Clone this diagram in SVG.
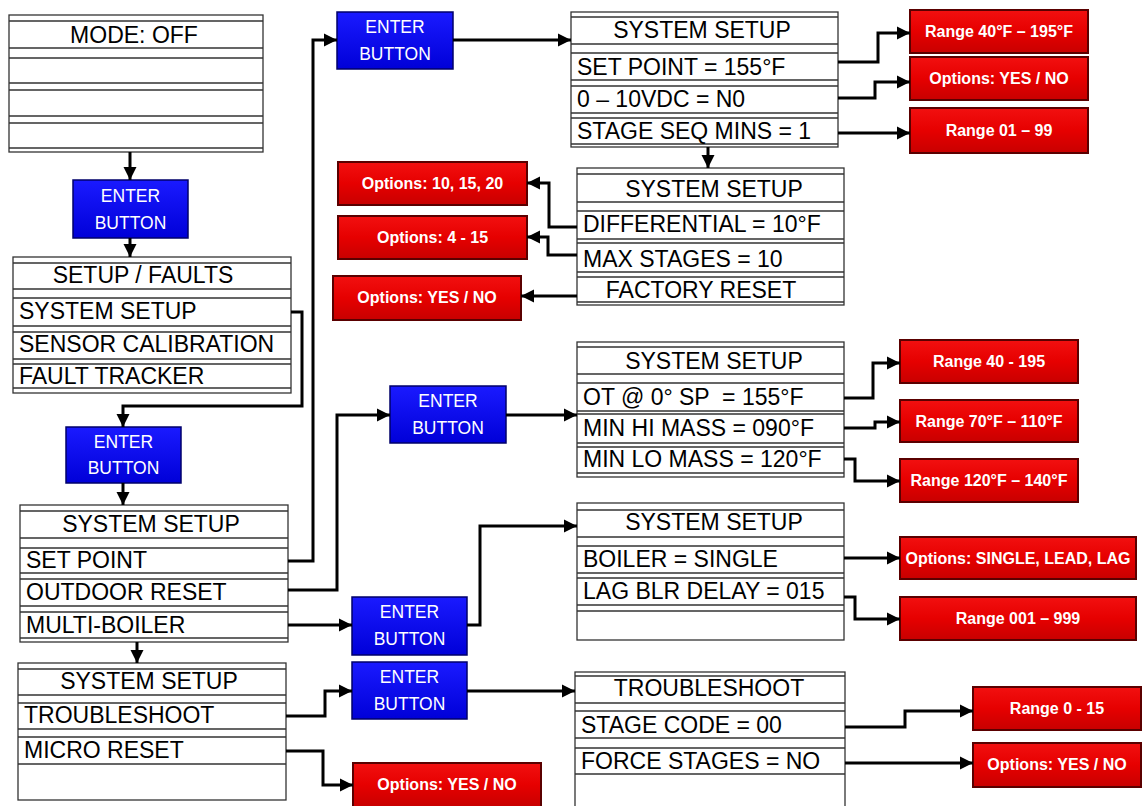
<svg xmlns="http://www.w3.org/2000/svg" width="1143" height="806" viewBox="0 0 1143 806">
<defs>
<marker id="ah" markerUnits="userSpaceOnUse" markerWidth="14" markerHeight="14" refX="13" refY="7" orient="auto">
<path d="M0,0.5 L13,7 L0,13.5 z" fill="#000"/>
</marker>
<linearGradient id="rg" x1="0" y1="0" x2="0" y2="1">
<stop offset="0" stop-color="#f21010"/>
<stop offset="0.5" stop-color="#e60000"/>
<stop offset="1" stop-color="#c80000"/>
</linearGradient>
<linearGradient id="bg" x1="0" y1="0" x2="0" y2="1">
<stop offset="0" stop-color="#1a1aff"/>
<stop offset="1" stop-color="#0000d8"/>
</linearGradient>
</defs>
<style>
.tb{fill:#fff;stroke:#333;stroke-width:1.3}
.ln{stroke:#333;stroke-width:1.3}
.tt{font-family:"Liberation Sans",Arial,sans-serif;font-size:23px;fill:#000}
.c{text-anchor:middle}
.btn{fill:url(#bg);stroke:#00006a;stroke-width:1.5}
.bt{font-family:"Liberation Sans",Arial,sans-serif;font-size:17.5px;fill:#fff;text-anchor:middle}
.red{fill:url(#rg);stroke:#5a0000;stroke-width:2}
.rt{font-family:"Liberation Sans",Arial,sans-serif;font-size:16px;font-weight:bold;fill:#fff;text-anchor:middle}
.cn{fill:none;stroke:#000;stroke-width:3;marker-end:url(#ah)}
</style>
<rect width="1143" height="806" fill="#fff"/>

<!-- Tables -->
<g id="t-mode">
<rect class="tb" x="9" y="15" width="254" height="137"/>
<path class="ln" d="M9,21H263M9,48H263M9,58H263M9,83H263M9,90H263M9,116H263M9,123H263M9,148H263"/>
<text class="tt c" x="134" y="43">MODE: OFF</text>
</g>
<g id="t-setup-faults">
<rect class="tb" x="13" y="257" width="278" height="136"/>
<path class="ln" d="M13,263H291M13,289H291M13,298H291M13,326H291M13,332H291M13,359H291M13,364H291M13,388H291"/>
<text class="tt c" x="143" y="283">SETUP / FAULTS</text>
<text class="tt" x="19" y="319">SYSTEM SETUP</text>
<text class="tt" x="19" y="352">SENSOR CALIBRATION</text>
<text class="tt" x="19" y="384">FAULT TRACKER</text>
</g>
<g id="t-system-setup-1">
<rect class="tb" x="20" y="505" width="268" height="137"/>
<path class="ln" d="M20,511H288M20,538H288M20,548H288M20,573H288M20,579H288M20,606H288M20,612H288M20,638H288"/>
<text class="tt c" x="151" y="532">SYSTEM SETUP</text>
<text class="tt" x="26" y="568">SET POINT</text>
<text class="tt" x="26" y="600">OUTDOOR RESET</text>
<text class="tt" x="26" y="633">MULTI-BOILER</text>
</g>
<g id="t-system-setup-2">
<rect class="tb" x="18" y="663" width="268" height="137"/>
<path class="ln" d="M18,669H286M18,695H286M18,703H286M18,729H286M18,737H286M18,764H286"/>
<text class="tt c" x="149" y="689">SYSTEM SETUP</text>
<text class="tt" x="24" y="723">TROUBLESHOOT</text>
<text class="tt" x="24" y="758">MICRO RESET</text>
</g>
<g id="t-setpoint">
<rect class="tb" x="571" y="12" width="267" height="135"/>
<path class="ln" d="M571,17H838M571,44H838M571,53H838M571,80H838M571,86H838M571,113H838M571,118H838M571,144H838"/>
<text class="tt c" x="702" y="38">SYSTEM SETUP</text>
<text class="tt" x="577" y="75">SET POINT = 155°F</text>
<text class="tt" x="577" y="107">0 – 10VDC = N0</text>
<text class="tt" x="577" y="139">STAGE SEQ MINS = 1</text>
</g>
<g id="t-differential">
<rect class="tb" x="577" y="168" width="267" height="137"/>
<path class="ln" d="M577,174H844M577,202H844M577,211H844M577,239H844M577,243H844M577,272H844M577,277H844M577,302H844"/>
<text class="tt c" x="714" y="197">SYSTEM SETUP</text>
<text class="tt" x="583" y="232">DIFFERENTIAL = 10°F</text>
<text class="tt" x="583" y="267">MAX STAGES = 10</text>
<text class="tt c" x="701" y="298">FACTORY RESET</text>
</g>
<g id="t-outdoor">
<rect class="tb" x="577" y="342" width="267" height="135"/>
<path class="ln" d="M577,347H844M577,374H844M577,383H844M577,411H844M577,414H844M577,443H844M577,447H844M577,473H844"/>
<text class="tt c" x="714" y="369">SYSTEM SETUP</text>
<text class="tt" x="583" y="405" xml:space="preserve">OT @ 0° SP  = 155°F</text>
<text class="tt" x="583" y="436">MIN HI MASS = 090°F</text>
<text class="tt" x="583" y="467">MIN LO MASS = 120°F</text>
</g>
<g id="t-multiboiler">
<rect class="tb" x="577" y="503" width="267" height="137"/>
<path class="ln" d="M577,510H844M577,537H844M577,546H844M577,573H844M577,578H844M577,605H844M577,611H844"/>
<text class="tt c" x="714" y="530">SYSTEM SETUP</text>
<text class="tt" x="583" y="567">BOILER = SINGLE</text>
<text class="tt" x="583" y="599">LAG BLR DELAY = 015</text>
</g>
<g id="t-troubleshoot">
<rect class="tb" x="575" y="672" width="270" height="140"/>
<path class="ln" d="M575,676H845M575,703H845M575,711H845M575,738H845M575,748H845M575,774H845"/>
<text class="tt c" x="709" y="696">TROUBLESHOOT</text>
<text class="tt" x="581" y="733">STAGE CODE = 00</text>
<text class="tt" x="581" y="769">FORCE STAGES = NO</text>
</g>

<!-- Enter buttons -->
<g id="b1"><rect class="btn" x="73" y="180" width="115" height="58"/><text class="bt" x="130.5" y="202">ENTER</text><text class="bt" x="130.5" y="229">BUTTON</text></g>
<g id="b2"><rect class="btn" x="66" y="427" width="115" height="56"/><text class="bt" x="123.5" y="448">ENTER</text><text class="bt" x="123.5" y="474">BUTTON</text></g>
<g id="b3"><rect class="btn" x="337" y="12" width="116" height="57"/><text class="bt" x="395" y="33">ENTER</text><text class="bt" x="395" y="60">BUTTON</text></g>
<g id="b4"><rect class="btn" x="390" y="386" width="116" height="57"/><text class="bt" x="448" y="407">ENTER</text><text class="bt" x="448" y="434">BUTTON</text></g>
<g id="b5"><rect class="btn" x="352" y="597" width="115" height="58"/><text class="bt" x="409.5" y="618">ENTER</text><text class="bt" x="409.5" y="645">BUTTON</text></g>
<g id="b6"><rect class="btn" x="352" y="662" width="115" height="57"/><text class="bt" x="409.5" y="683">ENTER</text><text class="bt" x="409.5" y="710">BUTTON</text></g>

<!-- Red option boxes -->
<g id="r1"><rect class="red" x="910" y="10" width="178" height="43"/><text class="rt" x="999" y="37">Range 40°F – 195°F</text></g>
<g id="r2"><rect class="red" x="910" y="57" width="178" height="43"/><text class="rt" x="999" y="84">Options: YES / NO</text></g>
<g id="r3"><rect class="red" x="910" y="108" width="178" height="45"/><text class="rt" x="999" y="136">Range 01 – 99</text></g>
<g id="r4"><rect class="red" x="338" y="162" width="189" height="43"/><text class="rt" x="432.5" y="189">Options: 10, 15, 20</text></g>
<g id="r5"><rect class="red" x="338" y="216" width="189" height="43"/><text class="rt" x="432.5" y="243">Options: 4 - 15</text></g>
<g id="r6"><rect class="red" x="333" y="276" width="188" height="44"/><text class="rt" x="427" y="303">Options: YES / NO</text></g>
<g id="r7"><rect class="red" x="900" y="340" width="178" height="43"/><text class="rt" x="989" y="367">Range 40 - 195</text></g>
<g id="r8"><rect class="red" x="900" y="400" width="178" height="42"/><text class="rt" x="989" y="427">Range 70°F – 110°F</text></g>
<g id="r9"><rect class="red" x="900" y="459" width="178" height="43"/><text class="rt" x="989" y="486">Range 120°F – 140°F</text></g>
<g id="r10"><rect class="red" x="900" y="537" width="236" height="42"/><text class="rt" x="1018" y="564">Options: SINGLE, LEAD, LAG</text></g>
<g id="r11"><rect class="red" x="900" y="597" width="236" height="43"/><text class="rt" x="1018" y="624">Range 001 – 999</text></g>
<g id="r12"><rect class="red" x="973" y="687" width="168" height="43"/><text class="rt" x="1057" y="714">Range 0 - 15</text></g>
<g id="r13"><rect class="red" x="973" y="743" width="168" height="44"/><text class="rt" x="1057" y="770">Options: YES / NO</text></g>
<g id="r14"><rect class="red" x="353" y="763" width="188" height="44"/><text class="rt" x="447" y="790">Options: YES / NO</text></g>

<!-- Connectors -->
<g id="connectors">
<path class="cn" d="M130,152V180"/>
<path class="cn" d="M130,238V257"/>
<path class="cn" d="M291,312H302V406H123V427"/>
<path class="cn" d="M123,483V505"/>
<path class="cn" d="M288,561H313V40H337"/>
<path class="cn" d="M453,40H571"/>
<path class="cn" d="M288,590H337V415H390"/>
<path class="cn" d="M506,415H577"/>
<path class="cn" d="M288,625H352"/>
<path class="cn" d="M467,625H480V526H577"/>
<path class="cn" d="M137,642V663"/>
<path class="cn" d="M286,716H325V691H352"/>
<path class="cn" d="M467,691H575"/>
<path class="cn" d="M286,751H323V785H353"/>
<path class="cn" d="M708,147V168"/>
<path class="cn" d="M838,62H878V33H910"/>
<path class="cn" d="M838,98H875V82H910"/>
<path class="cn" d="M838,133H910"/>
<path class="cn" d="M577,227H549V183H527"/>
<path class="cn" d="M577,255H548V237H527"/>
<path class="cn" d="M577,296H521"/>
<path class="cn" d="M844,398H873V363H900"/>
<path class="cn" d="M844,428H875V422H900"/>
<path class="cn" d="M844,459H855V481H900"/>
<path class="cn" d="M844,558H900"/>
<path class="cn" d="M844,597H855V619H900"/>
<path class="cn" d="M845,727H905V711H973"/>
<path class="cn" d="M845,763H973"/>
</g>
</svg>
